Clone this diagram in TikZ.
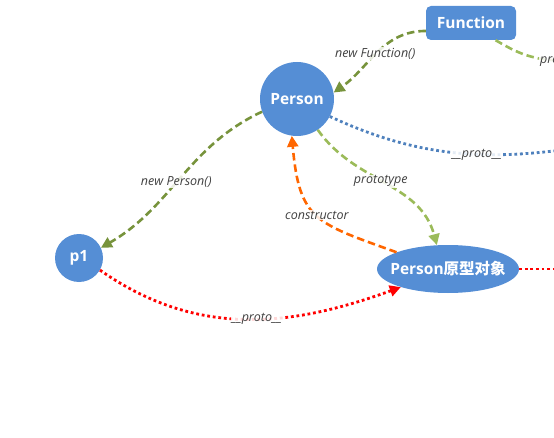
\documentclass[tikz,border=0pt]{standalone}
\usepackage{fontspec}
\setmainfont{Open Sans}
\newfontfamily\cjk{Noto Sans CJK SC}
\usetikzlibrary{arrows.meta,shapes.geometric}

\definecolor{nodeblue}{HTML}{558ED5}
\definecolor{newgreen}{HTML}{77933C}
\definecolor{protogreen}{HTML}{9BBB59}
\definecolor{ctororange}{HTML}{FF6600}
\definecolor{protoblue}{HTML}{4F81BD}
\definecolor{labelgray}{HTML}{404040}

\tikzset{
  objnode/.style={fill=nodeblue, text=white, inner sep=0pt,
    font=\bfseries\fontsize{15.5}{18}\selectfont},
  lbl/.style={font=\itshape\fontsize{12.5}{14}\selectfont, text=labelgray,
    fill=white, fill opacity=0.85, text opacity=1, inner sep=1pt},
  tip/.style={-{Triangle[length=11pt,width=11pt]}},
  dashline/.style={line width=2.6pt, dash pattern=on 7.5pt off 4pt},
  dotline/.style={line width=2.8pt, dash pattern=on 2.8pt off 2.8pt},
  newedge/.style={dashline, draw=newgreen, tip},
  protoedge/.style={dashline, draw=protogreen, tip},
  ctoredge/.style={dashline, draw=ctororange, tip},
  blueproto/.style={dotline, draw=protoblue},
  redline/.style={dotline, draw=red},
  redproto/.style={redline, tip}
}

\begin{document}
\begin{tikzpicture}[x=1pt, y=1pt]
\useasboundingbox (0,0) rectangle (554,437);

% objects
\node[objnode, rectangle, rounded corners=5pt, minimum width=90pt, minimum height=34pt]
    (fn) at (471,414) {Function};
\node[objnode, circle, minimum size=74pt] (person) at (297,338) {Person};
\node[objnode, circle, minimum size=48pt] (p1) at (79,179) {p1};
\node[objnode, ellipse, minimum width=142pt, minimum height=48pt]
    (proto) at (448,168) {\makebox[80pt]{Person{\cjk 原型对象}}};

% off-picture ends
\coordinate (fnproto) at (542,378);
\coordinate (fnprotoobj) at (620,296);
\coordinate (objproto) at (620,168);

% Function
\draw[newedge] (fn.190) to[out=180,in=35] node[lbl,pos=0.52] {new Function()} (person.10);
\draw[dashline, draw=protogreen] (fn.-35) to[out=-30,in=170] (fnproto) -- ++(80,-8);
\node[lbl, anchor=west] (fnlbl) at (539,376) {prototype};

% Person
\draw[newedge] (person.200) to[out=205,in=30] node[lbl,pos=0.53] {new Person()} (p1.25);
\draw[protoedge] (person.-56) to[out=-55,in=105] node[lbl,pos=0.47] {prototype} (proto.115);
\draw[blueproto] (person.-28) to[out=-25,in=190] node[lbl,pos=0.52] {\_\_proto\_\_} (fnprotoobj);

% prototype object
\draw[ctoredge] (proto.162) to[out=160,in=-85,looseness=1.4] node[lbl] {constructor} (person.262);
\draw[redproto] (p1.-30) to[out=-35,in=200] node[lbl,pos=0.54] {\_\_proto\_\_} (proto.201);
\draw[redline] (proto.east) -- (objproto);

\end{tikzpicture}
\end{document}
